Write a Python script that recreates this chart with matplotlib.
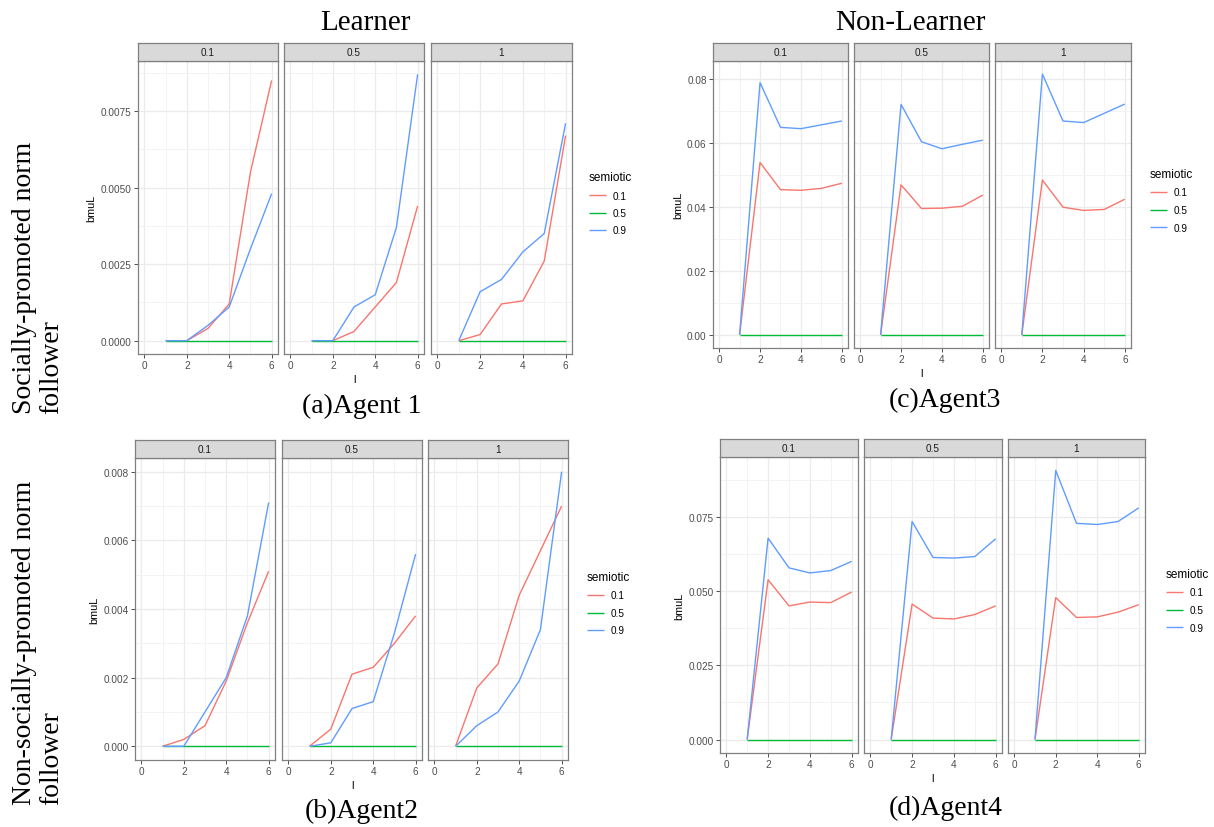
import numpy as np
import matplotlib
matplotlib.use('Agg')
import matplotlib.pyplot as plt
from matplotlib.ticker import MultipleLocator, FixedLocator, FixedFormatter

#%% data
l = [1, 2, 3, 4, 5, 6]
facetLabels = ['0.1', '0.5', '1']
semiotic = ['0.1', '0.5', '0.9']
zeros = [0, 0, 0, 0, 0, 0]

# (a) Agent 1 : one list per facet (0.1, 0.5, 1)
agent1Sem01 = [[0, 0, 0.0004, 0.0012, 0.0055, 0.0085],
               [0, 0, 0.0003, 0.0011, 0.0019, 0.0044],
               [0, 0.0002, 0.0012, 0.0013, 0.0026, 0.0067]]
agent1Sem05 = [zeros, zeros, zeros]
agent1Sem09 = [[0, 0, 0.0005, 0.0011, 0.0030, 0.0048],
               [0, 0, 0.0011, 0.0015, 0.0037, 0.0087],
               [0, 0.0016, 0.0020, 0.0029, 0.0035, 0.0071]]

# (b) Agent 2
agent2Sem01 = [[0, 0.0002, 0.0006, 0.0019, 0.0036, 0.0051],
               [0, 0.0005, 0.0021, 0.0023, 0.0030, 0.0038],
               [0, 0.0017, 0.0024, 0.0044, 0.0057, 0.0070]]
agent2Sem05 = [zeros, zeros, zeros]
agent2Sem09 = [[0, 0, 0.0010, 0.0020, 0.0038, 0.0071],
               [0, 0.0001, 0.0011, 0.0013, 0.0033, 0.0056],
               [0, 0.0006, 0.0010, 0.0019, 0.0034, 0.0080]]

# (c) Agent 3
agent3Sem01 = [[0, 0.0540, 0.0455, 0.0453, 0.0459, 0.0475],
               [0, 0.0470, 0.0396, 0.0397, 0.0403, 0.0438],
               [0, 0.0485, 0.0400, 0.0390, 0.0393, 0.0425]]
agent3Sem05 = [zeros, zeros, zeros]
agent3Sem09 = [[0, 0.0790, 0.0650, 0.0646, 0.0658, 0.0670],
               [0, 0.0722, 0.0605, 0.0583, 0.0597, 0.0610],
               [0, 0.0817, 0.0670, 0.0665, 0.0694, 0.0723]]

# (d) Agent 4
agent4Sem01 = [[0, 0.0538, 0.0450, 0.0463, 0.0461, 0.0497],
               [0, 0.0456, 0.0409, 0.0406, 0.0421, 0.0450],
               [0, 0.0478, 0.0411, 0.0413, 0.0429, 0.0454]]
agent4Sem05 = [zeros, zeros, zeros]
agent4Sem09 = [[0, 0.0678, 0.0578, 0.0561, 0.0569, 0.0600],
               [0, 0.0734, 0.0613, 0.0611, 0.0616, 0.0676],
               [0, 0.0906, 0.0728, 0.0724, 0.0734, 0.0780]]

agent1Ticks = [0, 0.0025, 0.005, 0.0075]
agent1TickLabels = ['0.0000', '0.0025', '0.0050', '0.0075']
agent2Ticks = [0, 0.002, 0.004, 0.006, 0.008]
agent2TickLabels = ['0.000', '0.002', '0.004', '0.006', '0.008']
agent3Ticks = [0, 0.02, 0.04, 0.06, 0.08]
agent3TickLabels = ['0.00', '0.02', '0.04', '0.06', '0.08']
agent4Ticks = [0, 0.025, 0.05, 0.075]
agent4TickLabels = ['0.000', '0.025', '0.050', '0.075']

#%% figure setup
W, H = 1214, 828
plt.rcParams['font.family'] = ['Liberation Sans', 'DejaVu Sans']
fig = plt.figure(figsize=(W / 100, H / 100), dpi=100)
cols = ['#F8766D', '#00BA38', '#619CFF']
serif = 'Liberation Serif'
borderCol = '#808080'


def box(x0, y0, x1, y1):
    # pixel box (top-left origin) -> figure fraction rect
    return [x0 / W, 1 - y1 / H, (x1 - x0) / W, (y1 - y0) / H]


def drawAgent(facetX, stripTop, panelTop, panelBottom, series, yTicks, yTickLabels, legendXY):
    allVals = np.concatenate([np.ravel(s) for s in series])
    lo, hi = allVals.min(), allVals.max()
    pad = 0.05 * (hi - lo)
    axes = []
    for i, (x0, x1) in enumerate(facetX):
        ax = fig.add_axes(box(x0, panelTop, x1, panelBottom))
        for vals, col in zip(series, cols):
            ax.plot(l, vals[i], color=col, lw=1.0, solid_capstyle='butt')
        ax.set_xlim(-0.3, 6.3)
        ax.set_ylim(lo - pad, hi + pad)
        ax.xaxis.set_major_locator(FixedLocator([0, 2, 4, 6]))
        ax.xaxis.set_minor_locator(MultipleLocator(1))
        ax.yaxis.set_major_locator(FixedLocator(yTicks))
        ax.yaxis.set_major_formatter(FixedFormatter(yTickLabels))
        ax.yaxis.set_minor_locator(MultipleLocator(yTicks[1] / 2))
        ax.set_axisbelow(True)
        ax.grid(which='major', color='#EBEBEB', lw=0.9)
        ax.grid(which='minor', color='#F3F3F3', lw=0.7)
        ax.tick_params(which='major', length=3, width=0.6, color='#333333',
                       labelsize=7.2, labelcolor='#4D4D4D', pad=1.5)
        ax.tick_params(which='minor', length=0)
        if i > 0:
            ax.tick_params(axis='y', left=False, labelleft=False)
        for sp in ax.spines.values():
            sp.set_color(borderCol)
            sp.set_linewidth(0.9)
        # facet strip
        strip = fig.add_axes(box(x0, stripTop, x1, panelTop))
        strip.set_facecolor('#D9D9D9')
        strip.set_xticks([])
        strip.set_yticks([])
        for sp in strip.spines.values():
            sp.set_color(borderCol)
            sp.set_linewidth(0.9)
        strip.text(0.5, 0.5, facetLabels[i], ha='center', va='center',
                   fontsize=7.2, color='#1A1A1A', transform=strip.transAxes)
        axes.append(ax)
    axes[0].set_ylabel('bmuL', fontsize=7.8, color='black', labelpad=3)
    axes[1].set_xlabel('l', fontsize=7.8, color='black', labelpad=3)
    fig.legend(handles=axes[0].lines, labels=semiotic, title='semiotic',
               loc='upper left', bbox_to_anchor=(legendXY[0] / W, 1 - legendXY[1] / H),
               frameon=False, fontsize=7.2, title_fontsize=8.5, handlelength=1.7,
               handletextpad=0.7, labelspacing=0.75, alignment='left',
               borderpad=0, borderaxespad=0)
    return axes


drawAgent([(138, 278), (284, 424), (431, 572)], 44, 62, 355,
          [agent1Sem01, agent1Sem05, agent1Sem09], agent1Ticks, agent1TickLabels, (589, 172))
drawAgent([(135, 275), (282, 422), (428, 568)], 441, 459, 761,
          [agent2Sem01, agent2Sem05, agent2Sem09], agent2Ticks, agent2TickLabels, (587, 572))
drawAgent([(713, 848), (854, 989), (995, 1131)], 44, 62, 349,
          [agent3Sem01, agent3Sem05, agent3Sem09], agent3Ticks, agent3TickLabels, (1150, 169))
drawAgent([(720, 858), (864, 1002), (1008, 1145)], 440, 458, 754,
          [agent4Sem01, agent4Sem05, agent4Sem09], agent4Ticks, agent4TickLabels, (1166, 569))

#%% big serif labels
fig.text(365 / W, 1 - 30 / H, 'Learner', ha='center', va='baseline', fontsize=21, family=serif)
fig.text(910 / W, 1 - 30 / H, 'Non-Learner', ha='center', va='baseline', fontsize=21, family=serif)
fig.text(362 / W, 1 - 413 / H, '(a)Agent 1', ha='center', va='baseline', fontsize=20, family=serif)
fig.text(945 / W, 1 - 407 / H, '(c)Agent3', ha='center', va='baseline', fontsize=20, family=serif)
fig.text(362 / W, 1 - 818 / H, '(b)Agent2', ha='center', va='baseline', fontsize=20, family=serif)
fig.text(946 / W, 1 - 815 / H, '(d)Agent4', ha='center', va='baseline', fontsize=20, family=serif)

fig.text(38 / W, 1 - 414 / H, 'Socially-promoted norm\nfollower', rotation=90,
         ha='center', va='bottom', multialignment='left', fontsize=20, family=serif,
         linespacing=1.1)
fig.text(38 / W, 1 - 805 / H, 'Non-socially-promoted norm\nfollower', rotation=90,
         ha='center', va='bottom', multialignment='left', fontsize=20, family=serif,
         linespacing=1.1)

fig.savefig('out.png', dpi=100, facecolor='white')
